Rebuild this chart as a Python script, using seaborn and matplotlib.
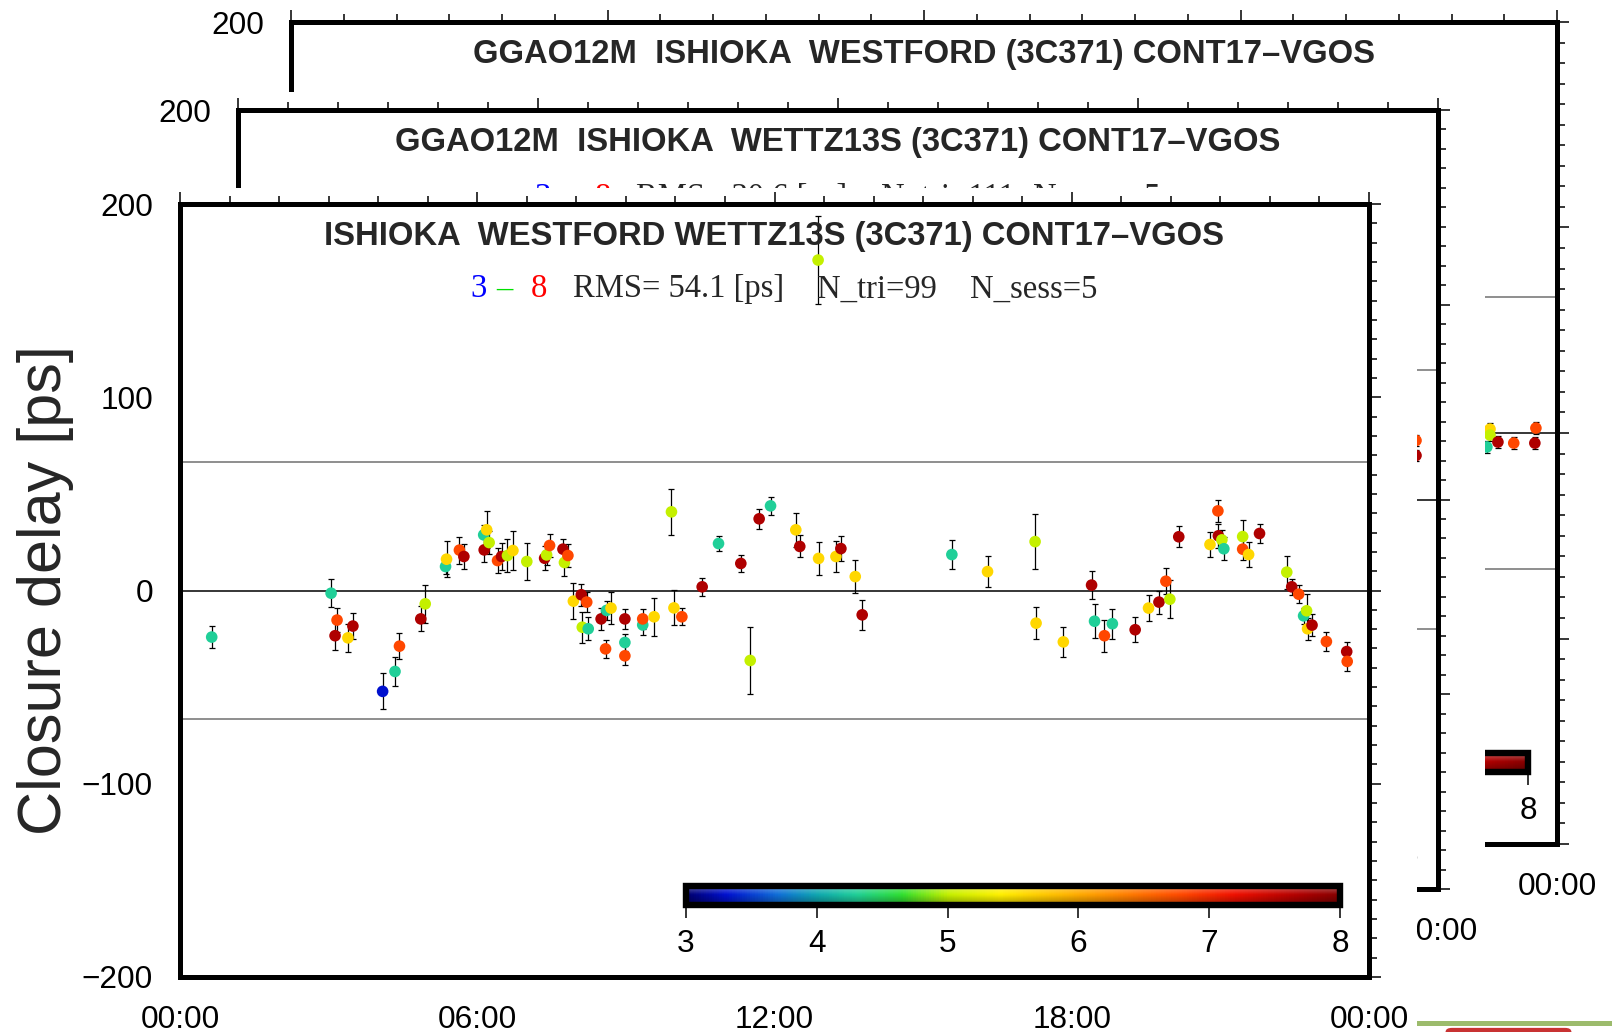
import numpy as np
import matplotlib
matplotlib.use('Agg')
import matplotlib.pyplot as plt
from matplotlib.colors import LinearSegmentedColormap, Normalize
from matplotlib.patches import Rectangle, FancyBboxPatch
from matplotlib.ticker import MultipleLocator, FixedLocator, FixedFormatter
import seaborn as sns

sns.set_style('white')
plt.rcParams['font.family'] = ['Liberation Sans', 'DejaVu Sans']

# colour levels used for the points (value on the 3..8 colour scale)
B, T, G, Y, O, R = 3.3, 4.3, 5.0, 5.6, 6.8, 7.7

# front panel: ISHIOKA WESTFORD WETTZ13S
front_hours = [0.64, 3.05, 3.13, 3.17, 3.39, 3.49, 4.09, 4.34, 4.43, 4.86, 4.95,
               5.36, 5.38, 5.64, 5.73, 6.13, 6.14, 6.19, 6.24, 6.41, 6.49, 6.61,
               6.72, 7.00, 7.36, 7.40, 7.46, 7.73, 7.76, 7.83, 7.94,
               8.10, 8.21, 8.12, 8.24, 8.50, 8.59, 8.61, 8.70, 8.98, 8.98, 8.98,
               9.34, 9.34, 9.57, 9.92, 9.97, 10.13, 10.54, 10.87, 11.32, 11.51,
               11.69, 11.92, 12.43, 12.51, 12.88, 12.89, 13.24, 13.34, 13.63,
               13.77, 15.58,
               16.30, 17.26, 17.28, 17.83, 18.40, 18.46, 18.66, 18.82, 19.28,
               19.55, 19.76, 19.90, 19.98, 20.16, 20.79, 20.95, 20.96, 21.03,
               21.07, 21.45, 21.45, 21.57, 21.79, 22.34, 22.44, 22.58, 22.68,
               22.74, 22.76, 22.85, 23.14, 23.55, 23.56]
front_delay = [-24.1, -1.4, -23.4, -15.3, -24.5, -18.4, -52.2, -41.9, -28.8, -14.7, -6.9,
               12.4, 16.2, 20.9, 17.6, 28.8, 21.0, 31.4, 24.8, 15.5, 17.6, 18.1,
               20.7, 15.0, 16.7, 18.4, 23.3, 21.4, 14.5, 18.1, -5.5,
               -2.2, -6.0, -19.0, -19.8, -14.7, -30.2, -10.3, -9.1, -14.7, -26.9, -33.8,
               -17.8, -14.7, -13.6, 40.7, -9.0, -13.6, 1.9, 24.3, 14.0, -36.2,
               37.1, 43.8, 31.4, 22.8, 171.0, 16.6, 17.6, 21.7, 7.2,
               -12.6, 18.6,
               9.8, 25.3, -16.9, -26.6, 2.8, -15.9, -23.4, -17.2, -20.3,
               -9.1, -6.0, 4.8, -4.5, 27.8, 23.8, 41.2, 28.3, 26.2,
               21.6, 27.9, 21.4, 18.6, 29.5, 9.5, 1.9, -1.9, -13.1,
               -10.5, -19.8, -17.9, -26.4, -31.6, -36.7]
front_err = [5.9, 7.2, 7.3, 6.0, 7.2, 6.7, 9.3, 7.6, 6.9, 6.5, 10.0,
             4.0, 9.2, 7.0, 6.7, 5.0, 6.5, 9.5, 6.0, 6.7, 7.0, 8.7,
             9.9, 9.7, 6.3, 5.0, 6.0, 5.5, 7.0, 5.9, 9.3,
             5.7, 5.0, 8.0, 6.0, 5.8, 4.7, 5.0, 8.4, 5.0, 4.5, 5.0,
             5.0, 5.0, 9.7, 12.0, 9.1, 4.3, 4.6, 4.1, 4.3, 17.3,
             5.1, 4.7, 8.8, 5.7, 23.0, 8.4, 8.1, 6.3, 8.4,
             7.6, 7.6,
             7.8, 14.4, 8.2, 7.6, 7.1, 8.8, 8.2, 7.8, 6.4,
             6.8, 6.0, 6.8, 9.7, 5.5, 6.3, 5.7, 6.3, 5.0,
             6.0, 8.5, 5.5, 6.5, 5.0, 8.5, 4.3, 4.6, 4.0,
             8.5, 5.7, 5.6, 4.7, 4.7, 4.7]
front_level = [T, T, R, O, Y, R, B, T, O, R, G,
               T, Y, O, R, T, R, Y, G, O, R, G,
               Y, G, R, G, O, R, G, O, Y,
               R, O, G, T, R, O, T, Y, R, T, O,
               T, O, Y, G, Y, O, R, T, R, G,
               R, T, Y, R, G, Y, Y, R, Y,
               R, T,
               Y, G, Y, Y, R, T, O, T, R,
               Y, R, O, G, R, Y, O, R, G,
               T, G, O, Y, R, G, R, O, T,
               G, Y, R, O, R, O]

# middle panel: GGAO12M ISHIOKA WETTZ13S (only the right end is visible)
mid_hours = [23.56, 23.56]
mid_delay = [30.3, 22.6]
mid_err = [3.0, 3.0]
mid_level = [O, R]

# back panel: GGAO12M ISHIOKA WESTFORD (only the right end is visible)
top_hours = [22.67, 22.73, 22.73, 22.88, 23.18, 23.60, 23.58]
top_delay = [-6.8, 1.9, -1.0, -4.4, -4.9, 2.4, -4.9]
top_err = [3.0, 3.0, 3.0, 3.0, 3.0, 3.0, 3.0]
top_level = [T, Y, G, R, O, O, R]

x_ticks = [0, 6, 12, 18, 24]
x_labels = ['00:00', '06:00', '12:00', '18:00', '00:00']
# the panels behind only show their last time label
x_labels_back = ['', '', '', '', '00:00']
y_ticks = [-200, -100, 0, 100, 200]
cbar_ticks = [3, 4, 5, 6, 7, 8]
cbar_labels_back = ['', '', '', '', '', '8']
limit_lines = [66.4, -66.4]

# colour scale 3..8
cmap_values = [3.0, 3.3, 3.7, 4.0, 4.3, 4.65, 5.0, 5.4, 5.6, 6.1, 6.8, 7.2, 7.7, 8.0]
cmap_colors = ['#000070', '#0010d0', '#1070d8', '#10a8b0', '#20d098', '#30e030',
               '#c4f000', '#fff000', '#ffd800', '#ffa000', '#ff4800', '#f01000',
               '#b00000', '#880000']
cmap = LinearSegmentedColormap.from_list(
    'cd', [((v - 3) / 5, c) for v, c in zip(cmap_values, cmap_colors)])
norm = Normalize(3, 8)

W, H = 1612, 1032
fig = plt.figure(figsize=(W / 100, H / 100), dpi=100)


def px_rect(x0, y0, x1, y1):
    return [x0 / W, 1 - y1 / H, (x1 - x0) / W, (y1 - y0) / H]


def window(x0, y0, x1, y1, z):
    fig.add_artist(Rectangle((x0 / W, 1 - y1 / H), (x1 - x0) / W, (y1 - y0) / H,
                             transform=fig.transFigure, facecolor='white',
                             edgecolor='none', zorder=z))


def draw_panel(box, z, title, rms, ntri, hours, delay, err, level,
               xlabels, cblabels, title_off=32, sub_off=85):
    x0, y0, x1, y1 = box
    wpx, hpx = x1 - x0, y1 - y0
    ax = fig.add_axes(px_rect(*box), zorder=z)
    ax.set_facecolor('white')
    for v in limit_lines:
        ax.axhline(v, color='#707070', lw=1.1, zorder=1)
    ax.axhline(0, color='black', lw=1.1, zorder=1)
    ax.errorbar(hours, delay, yerr=err, fmt='none', ecolor='black',
                elinewidth=0.9, capsize=2.2, capthick=0.9, zorder=2)
    sns.scatterplot(x=hours, y=delay, hue=level, palette=cmap, hue_norm=(3, 8),
                    s=70, linewidth=0, legend=False, ax=ax, zorder=3)
    ax.set_xlim(0, 24)
    ax.set_ylim(-200, 200)
    ax.xaxis.set_major_locator(FixedLocator(x_ticks))
    ax.xaxis.set_major_formatter(FixedFormatter(xlabels))
    ax.xaxis.set_minor_locator(MultipleLocator(1))
    ax.yaxis.set_major_locator(FixedLocator(y_ticks))
    ax.yaxis.set_minor_locator(MultipleLocator(10))
    ax.tick_params(which='both', direction='out', top=True, right=True,
                   labeltop=False, labelright=False, width=1.1, colors='black')
    ax.tick_params(which='major', length=8.5, labelsize=22.7)
    ax.tick_params(axis='x', which='major', pad=11.5)
    ax.tick_params(axis='y', which='major', pad=11)
    ax.tick_params(which='minor', length=6)
    for s in ax.spines.values():
        s.set_linewidth(3.6)
        s.set_color('black')
    ax.set_xlabel('')
    ax.set_ylabel('')

    # title and statistics line
    ax.text(0.5, 1 - title_off / hpx, title, transform=ax.transAxes, ha='center',
            va='center', fontsize=23.6, fontweight='bold')
    cx = wpx / 2
    ys = 1 - sub_off / hpx
    serif = ['Liberation Serif', 'DejaVu Serif']
    def fx(off):
        return (cx + off) / wpx
    ax.text(fx(-295.5), ys, '3', color='#0000ff', transform=ax.transAxes,
            ha='center', va='center', fontsize=23.5, family=serif)
    ax.text(fx(-270.5), ys, '\u2013', color='#00e000', transform=ax.transAxes,
            ha='center', va='center', fontsize=23.5, family=serif)
    ax.text(fx(-235.5), ys, '8', color='#ff0000', transform=ax.transAxes,
            ha='center', va='center', fontsize=23.5, family=serif)
    ax.text(fx(-201.5), ys, 'RMS= %s [ps]' % rms, transform=ax.transAxes,
            ha='left', va='center', fontsize=23.5, family=serif)
    ax.text(fx(42.5), ys, 'N_tri=%s' % ntri, transform=ax.transAxes,
            ha='left', va='center', fontsize=23.5, family=serif)
    ax.text(fx(195.5), ys, 'N_sess=5', transform=ax.transAxes,
            ha='left', va='center', fontsize=23.5, family=serif)

    # colour bar in the lower right corner
    cax = fig.add_axes(px_rect(x1 - 683, y1 - 91, x1 - 29, y1 - 72), zorder=z + 0.5)
    cb = fig.colorbar(plt.cm.ScalarMappable(norm=norm, cmap=cmap), cax=cax,
                      orientation='horizontal')
    cb.set_ticks(cbar_ticks)
    cax.set_xticklabels(cblabels)
    cb.outline.set_linewidth(4.6)
    cb.outline.set_edgecolor('black')
    cb.outline.set_zorder(6)
    cax.tick_params(direction='out', length=9, width=1.1, labelsize=22.7, pad=8,
                    colors='black')
    shade = np.zeros((20, 2, 4))
    t = np.linspace(0, 1, 20)
    shade[:, :, :3] = np.where(t < 0.45, 1.0, 0.0)[:, None, None]
    shade[:, :, 3] = np.where(t < 0.45, 0.35 * (1 - t / 0.45),
                              0.35 * (t - 0.45) / 0.55)[:, None]
    cax.imshow(shade, extent=[3, 8, 0, 1], aspect='auto', origin='upper',
               interpolation='bilinear', zorder=2)
    cax.set_xlim(3, 8)
    cax.set_ylim(0, 1)
    return ax


# desktop bits behind the windows
fig.add_artist(Rectangle((1417 / W, 1 - 1026 / H), (W - 1417) / W, 5 / H,
                         transform=fig.transFigure, facecolor='#9cbb6c',
                         edgecolor='none', zorder=0.1))
fig.add_artist(FancyBboxPatch((1452 / W, 1 - 1040 / H), 113 / W, 8 / H,
                              boxstyle='round,pad=0.004', transform=fig.transFigure,
                              facecolor='#c83232', edgecolor='none', zorder=0.1))

draw_panel((291, 22, 1557, 844), 1,
           'GGAO12M  ISHIOKA  WESTFORD (3C371) CONT17\u2013VGOS', '41.8', '104',
           top_hours, top_delay, top_err, top_level, x_labels_back,
           cbar_labels_back, title_off=33, sub_off=90)
window(0, 92, 1485, 1015, 2)
draw_panel((238, 110, 1438, 889), 3,
           'GGAO12M  ISHIOKA  WETTZ13S (3C371) CONT17\u2013VGOS', '30.6', '111',
           mid_hours, mid_delay, mid_err, mid_level, x_labels_back,
           cbar_labels_back, title_off=33, sub_off=88)
window(0, 188, 1417, H + 5, 4)
ax = draw_panel((180, 204, 1369, 977), 5,
                'ISHIOKA  WESTFORD WETTZ13S (3C371) CONT17\u2013VGOS', '54.1', '99',
                front_hours, front_delay, front_err, front_level, x_labels,
                [str(v) for v in cbar_ticks])
ax.set_ylabel('Closure delay [ps]', fontsize=44)
ax.yaxis.set_label_coords((74 - 180) / 1189, 0.5)

fig.savefig('out.png', dpi=100, facecolor='white')
